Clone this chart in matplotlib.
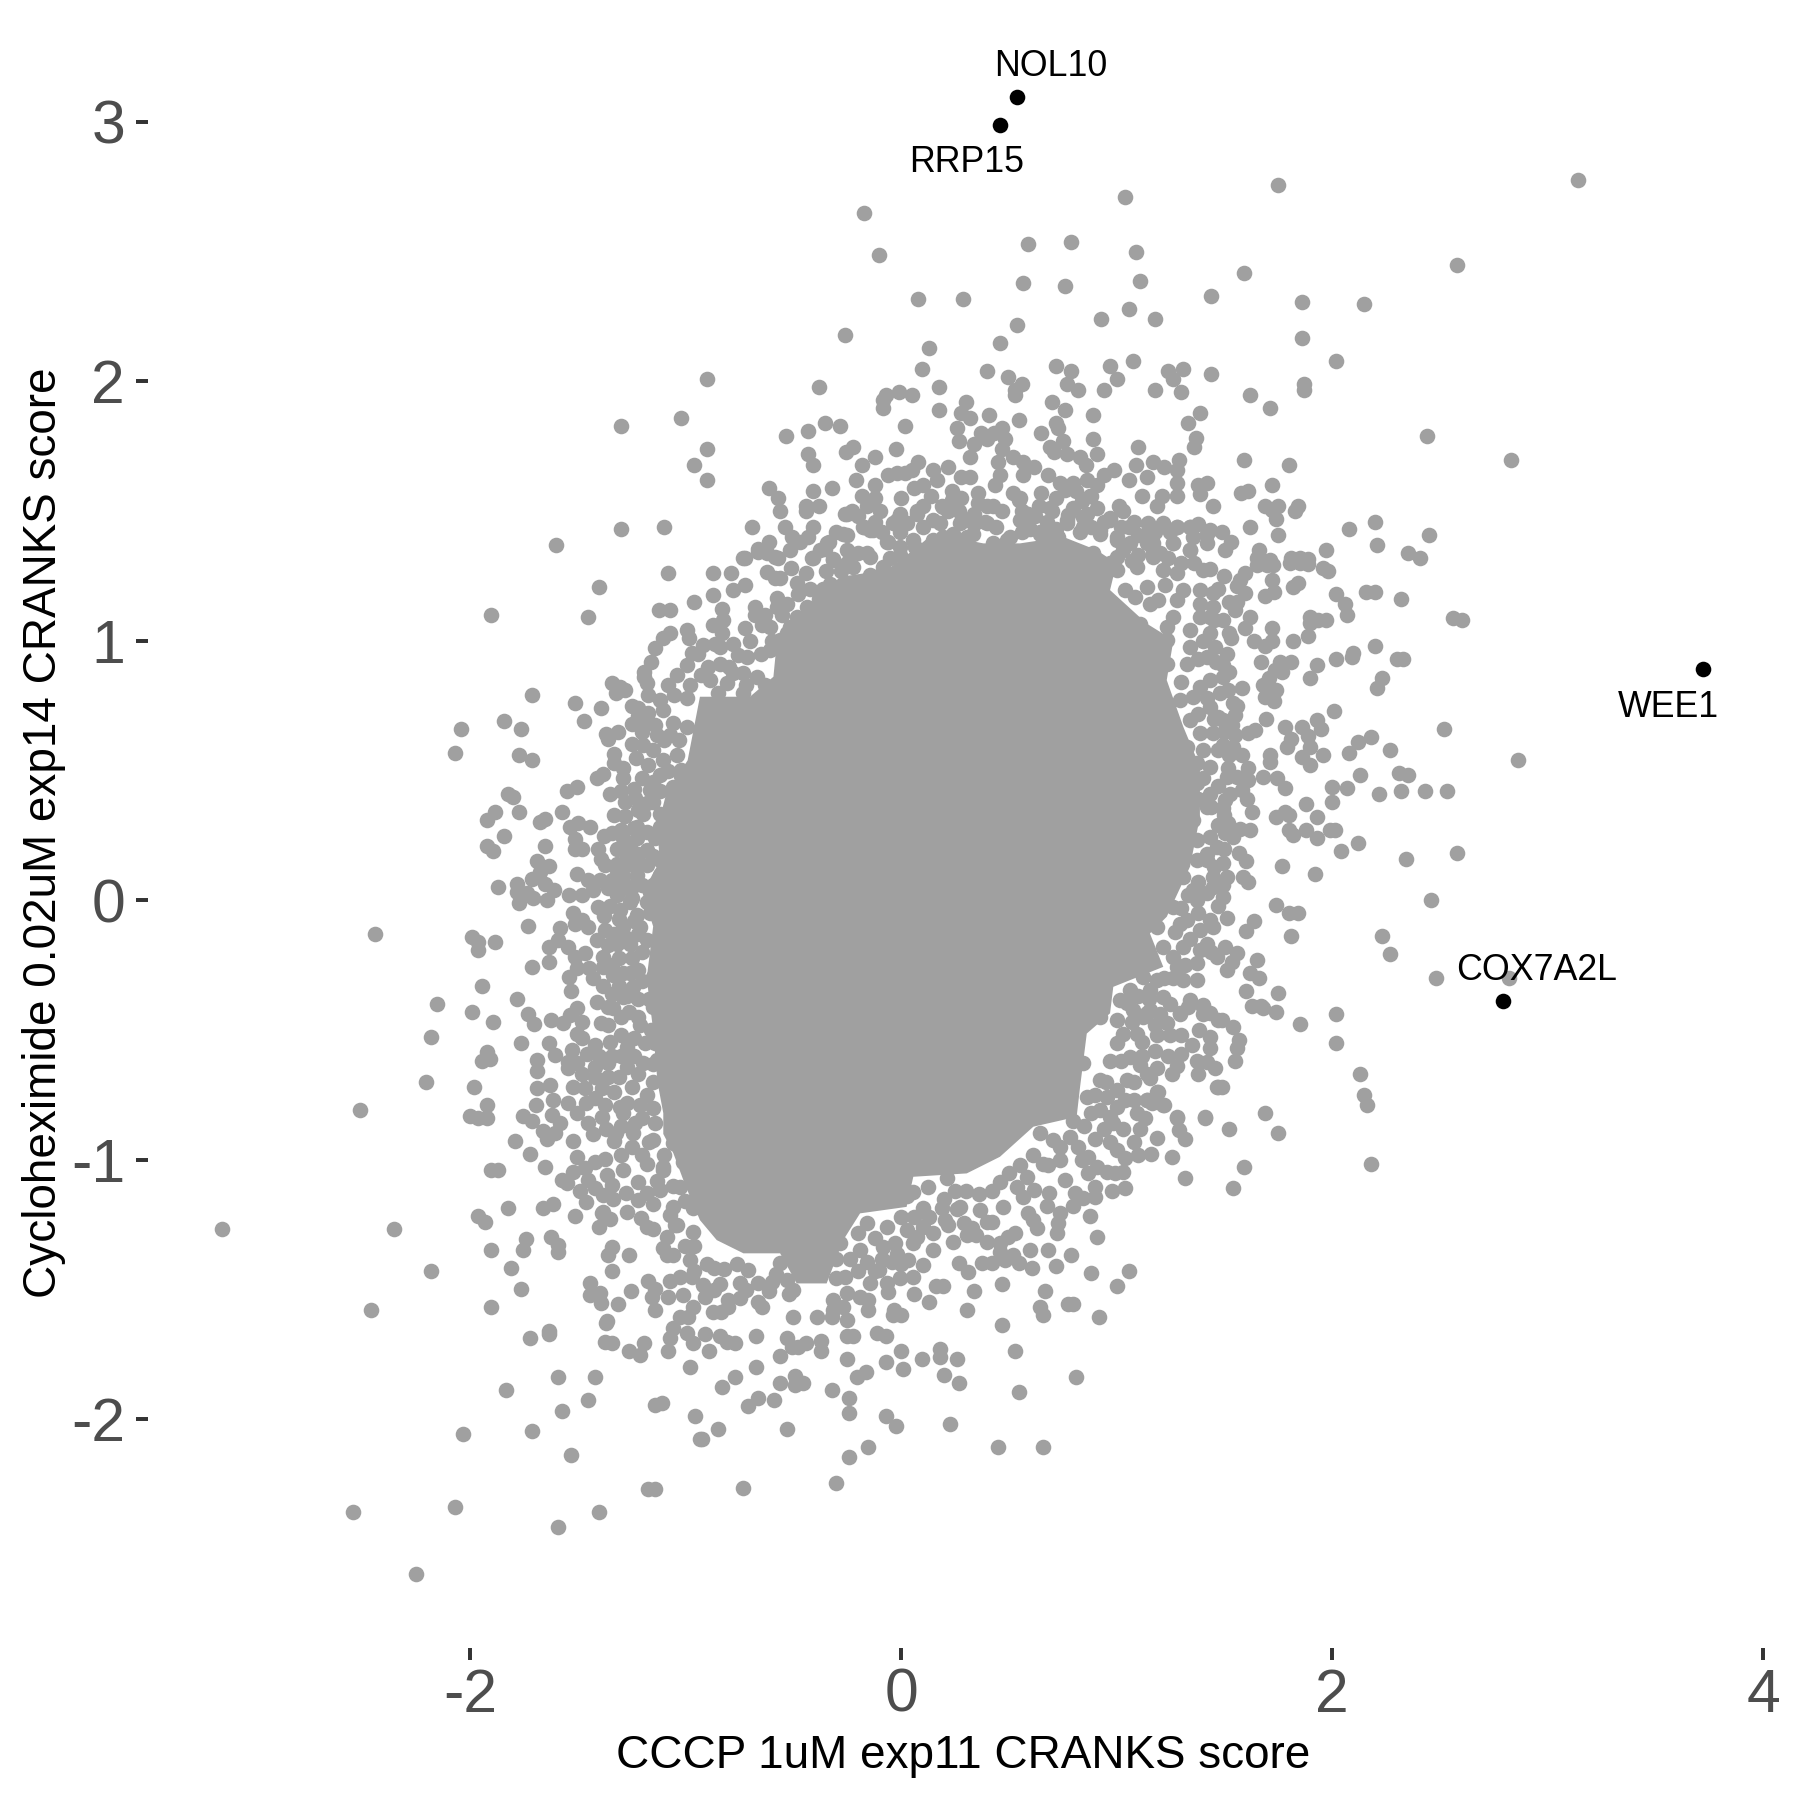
import numpy as np
import matplotlib
matplotlib.use('Agg')
import matplotlib.pyplot as plt

plt.rcParams['font.family'] = ['Liberation Sans', 'DejaVu Sans']

# labelled genes
hit_names = ['NOL10', 'RRP15', 'WEE1', 'COX7A2L']
hit_x = [0.54, 0.459, 3.723, 2.792]
hit_y = [3.097, 2.988, 0.89, -0.389]
label_x = [0.696, 0.305, 3.563, 2.95]
label_y = [3.214, 2.844, 0.744, -0.271]

xtick_vals = [-2, 0, 2, 4]
xtick_text = ['-2', '0', '2', '4']
ytick_vals = [-2, -1, 0, 1, 2, 3]
ytick_text = ['-2', '-1', '0', '1', '2', '3']

# points are too overplotted to read in the middle, so that part is an outline
core_x = [-.933, -.701, -.592, -.577, -.438, -.283, -.067, .057, .15, .382, .552, .753, .908, 1.0, .97, 1.14, 1.264, 1.233,
          1.31, 1.387, 1.387, 1.341, 1.233, 1.155, 1.217, .985, .97, .862, .831, .815, .614, .459, .305, .057, .026, -.19, -.268,
          -.345, -.484, -.561, -.731, -.855, -.933, -1.0, -1.056, -1.103, -1.103, -1.13, -1.15, -1.18, -1.15,
          -1.2, -1.12, -1.13, -1.09, -.99]
core_y = [.785, .785, .862, .99, 1.119, 1.247, 1.273, 1.35, 1.414, 1.376, 1.376, 1.401, 1.35, 1.299, 1.196, 1.067, 1.003, .849,
          .669, .515, .322, .13, -.063, -.127, -.256, -.333, -.435, -.513, -.718, -.834, -.872, -.988, -1.052, -1.065, -1.181, -1.206, -1.309,
          -1.476, -1.476, -1.36, -1.36, -1.309, -1.232, -1.1, -.975, -.9, -.82, -.7, -.5, -.3, -.1,
          .03, .15, .28, .41, .54]

upper_left = [(-1.30, 1.829), (-1.021, 1.859), (-.962, 1.679), (-1.30, 1.43), (-1.101, 1.439), (-1.601, 1.369),
    (-.90, 2.009), (-.90, 1.739), (-.90, 1.62)]

top_mid = [(-.17, 2.649), (-.10, 2.488), (1.039, 2.709), (.589, 2.529), (.79, 2.538), (1.089, 2.498), (1.111, 2.388),
    (.568, 2.378), (.759, 2.367), (1.44, 2.329), (.079, 2.318), (.289, 2.318), (1.06, 2.279), (.93, 2.239), (1.18, 2.239),
    (.54, 2.218), (-.261, 2.179), (.459, 2.149), (.128, 2.128), (1.078, 2.078), (.099, 2.049), (.719, 2.059), (.97, 2.059),
    (.399, 2.039), (.789, 2.039), (1.241, 2.039), (1.31, 2.049), (1.44, 2.03), (.498, 2.019), (1.0, 2.009), (1.261, 2.009),
    (-.381, 1.979), (.178, 1.979), (.56, 1.99), (.769, 1.99), (.82, 1.969), (.94, 1.969), (1.18, 1.969), (1.299, 1.96),
    (.529, 1.969), (.529, 1.949), (-.071, 1.949), (-.011, 1.96), (.049, 1.949), (-.082, 1.929), (-.082, 1.899), (.30, 1.919),
    (.699, 1.919), (.178, 1.889), (.759, 1.889), (.28, 1.879), (.32, 1.859), (.41, 1.869), (.889, 1.869), (1.389, 1.879),
    (.549, 1.85), (.719, 1.839), (1.33, 1.839), (-.351, 1.839), (-.282, 1.829), (.019, 1.829), (.26, 1.819), (-.432, 1.809),
    (-.533, 1.789), (.47, 1.819), (.37, 1.8), (.43, 1.8), (.73, 1.819), (.65, 1.8), (1.369, 1.782), (.889, 1.779), (.269, 1.769),
    (.40, 1.779), (.483, 1.779), (.75, 1.769), (.339, 1.758), (1.36, 1.748), (1.10, 1.748), (.69, 1.748), (-.221, 1.749),
    (-.022, 1.739), (-.255, 1.729), (.47, 1.739), (.71, 1.729), (-.432, 1.719), (.77, 1.719), (.91, 1.719), (-.121, 1.71),
    (.32, 1.71), (.52, 1.71), (.831, 1.71), (1.29, 1.699), (-.181, 1.679), (-.41, 1.679), (.077, 1.689), (.449, 1.689),
    (.568, 1.689), (.858, 1.679), (1.089, 1.679), (1.169, 1.689), (.218, 1.669), (.619, 1.669), (1.22, 1.669), (.148, 1.658),
    (.049, 1.658), (-.06, 1.64), (-.02, 1.648), (.019, 1.648), (.99, 1.658), (.459, 1.639), (.681, 1.639), (.568, 1.639),
    (1.279, 1.658), (.28, 1.63), (.32, 1.63), (.94, 1.639), (1.14, 1.63), (.169, 1.62), (-.21, 1.62), (1.06, 1.622),
    (.862, 1.62), (-.121, 1.602), (.74, 1.61), (1.279, 1.61), (1.42, 1.61), (.80, 1.61), (-.613, 1.589), (-.32, 1.589),
    (.059, 1.589), (.438, 1.6), (.91, 1.6), (1.38, 1.6), (.81, 1.579), (-.41, 1.579), (.238, 1.579), (.518, 1.571),
    (.65, 1.571), (.359, 1.571), (1.387, 1.568), (1.12, 1.56), (1.21, 1.56), (1.279, 1.56), (-.181, 1.56), (-.572, 1.549),
    (0.0, 1.549), (.877, 1.56), (.238, 1.543), (.549, 1.543), (-.121, 1.549), (-.44, 1.52), (-.381, 1.52), (-.157, 1.52),
    (.189, 1.52), (.359, 1.53), (.429, 1.52), (.64, 1.52), (1.01, 1.52), (1.19, 1.52), (1.449, 1.52), (.691, 1.512), (.80, 1.512),
    (.908, 1.512), (-.562, 1.499), (-.44, 1.499), (-.096, 1.499), (.073, 1.499), (.56, 1.499), (1.032, 1.499), (-.261, 1.489),
    (-.227, 1.499), (-.005, 1.489), (.862, 1.489), (.776, 1.485), (.97, 1.472), (.583, 1.46), (.39, 1.46), (.677, 1.46),
    (-.036, 1.453), (.026, 1.453), (.181, 1.453), (.274, 1.453), (1.217, 1.45), (1.279, 1.44), (1.148, 1.45), (1.341, 1.44),
    (1.38, 1.45), (1.434, 1.427), (-.693, 1.439), (-.54, 1.439), (-.17, 1.439), (1.06, 1.439), (.769, 1.453), (.846, 1.44),
    (.923, 1.427), (-.252, 1.409), (-.143, 1.427), (-.005, 1.421), (-.507, 1.401), (-.432, 1.4), (.645, 1.421), (.691, 1.414),
    (.73, 1.401), (-.611, 1.38), (-.333, 1.38), (-.059, 1.38), (.196, 1.401), (.305, 1.401), (.505, 1.401), (1.0, 1.401),
    (1.14, 1.408), (1.263, 1.376), (1.357, 1.401), (1.418, 1.376), (-.662, 1.353), (-.515, 1.35), (-.353, 1.356), (-.252, 1.35),
    (.065, 1.363), (.429, 1.376), (.80, 1.344), (1.341, 1.35), (-.731, 1.318), (-.585, 1.324), (-.415, 1.318), (-.314, 1.314),
    (-.144, 1.324), (-.005, 1.33), (.15, 1.363), (.893, 1.337), (1.032, 1.35), (1.171, 1.344)]

upper_right = [(1.751, 2.758), (3.141, 2.778), (1.59, 2.419), (2.58, 2.448), (1.861, 2.308), (2.15, 2.298), (1.861, 2.168),
    (2.02, 2.078), (1.871, 1.99), (1.871, 1.969), (1.621, 1.949), (1.711, 1.899), (2.441, 1.789), (1.59, 1.699), (1.8, 1.679),
    (2.831, 1.699), (1.72, 1.6), (1.612, 1.579), (1.579, 1.57), (1.691, 1.52), (1.751, 1.52), (1.841, 1.52), (1.83, 1.499),
    (1.72, 1.504), (1.74, 1.469), (1.621, 1.439), (2.201, 1.459), (2.08, 1.43), (1.751, 1.409), (2.45, 1.409), (2.21, 1.369),
    (1.531, 1.38), (1.488, 1.419), (1.66, 1.35), (1.971, 1.35), (2.351, 1.34), (2.41, 1.32), (1.504, 1.35), (1.81, 1.318),
    (1.851, 1.318), (1.89, 1.314), (1.65, 1.318), (1.712, 1.312)]

mid_right = [(1.65, 1.292), (1.697, 1.292), (1.728, 1.292), (1.805, 1.301), (1.851, 1.301), (1.89, 1.296), (1.96, 1.283),
    (1.983, 1.27), (1.596, 1.26), (1.72, 1.235), (1.573, 1.235), (1.844, 1.222), (1.821, 1.209), (1.558, 1.211), (2.02, 1.18),
    (2.158, 1.188), (2.201, 1.188), (2.32, 1.16), (1.733, 1.188), (1.689, 1.173), (1.596, 1.183), (2.06, 1.142), (1.558, 1.151),
    (1.55, 1.119), (2.07, 1.1), (1.619, 1.093), (2.563, 1.09), (2.602, 1.08), (1.898, 1.093), (1.936, 1.08), (1.971, 1.08),
    (1.898, 1.07), (1.72, 1.048), (1.596, 1.048), (1.496, 1.08), (1.89, 1.02), (1.531, 1.01), (1.638, 1.001), (1.72, 1.001),
    (1.689, .98), (1.821, 1.001), (2.201, .98), (2.099, .952), (2.091, .939), (2.02, .93), (2.3, .93), (2.331, .93), (1.511, .948),
    (1.671, .92), (1.759, .92), (1.81, .92), (1.93, .909), (1.496, .907), (1.735, .888), (1.769, .879), (1.708, .859), (1.9, .859),
    (2.23, .859), (2.21, .82), (1.496, .862), (1.678, .83), (1.581, .82), (1.519, .81), (1.739, .81), (1.689, .784), (1.731, .769),
    (1.558, .75), (2.011, .73), (1.55, .714), (1.692, .7), (1.93, .695), (1.95, .66), (1.496, .695), (1.861, .67), (1.78, .67),
    (2.521, .66), (1.535, .676), (1.643, .656), (1.612, .647), (1.89, .635), (2.181, .631), (2.121, .61), (1.81, .624), (1.789, .59),
    (1.55, .637), (1.9, .59), (2.271, .581), (2.08, .57), (1.496, .599), (1.542, .592), (1.581, .56), (1.711, .56), (1.711, .534),
    (1.96, .56), (1.861, .551), (2.862, .541), (1.9, .52), (1.612, .509), (1.519, .509), (2.311, .492), (2.351, .482), (2.13, .482),
    (1.682, .477), (1.743, .47), (1.558, .477), (1.612, .464), (1.511, .477), (1.78, .432), (2.0, .438), (2.07, .432), (2.322, .421),
    (2.43, .421), (2.532, .421), (2.22, .411), (1.581, .425), (1.527, .412), (1.604, .392), (1.503, .387), (2.0, .38), (1.881, .371),
    (1.496, .355), (1.63, .34), (1.78, .342), (1.74, .321), (1.8, .331), (1.93, .321), (1.519, .297), (1.573, .277), (1.62, .271),
    (1.8, .271), (1.821, .252), (1.881, .271), (1.93, .24), (1.99, .271), (2.014, .271), (1.503, .258), (1.542, .245), (2.121, .22),
    (2.04, .19), (1.566, .181), (1.601, .152), (2.342, .161), (2.58, .181), (1.496, .143), (1.77, .131), (1.92, .101), (1.511, .091),
    (1.588, .091), (1.612, .072), (1.496, .059), (1.496, .012), (2.461, .001), (1.74, -.019), (1.8, -.049), (1.841, -.049), (1.511, -.069),
    (1.638, -.078), (1.6, -.118), (1.81, -.139), (2.23, -.139), (2.271, -.208), (1.503, -.179), (1.558, -.204), (1.534, -.236),
    (1.65, -.229), (1.619, -.279), (1.66, -.298), (1.511, -.268), (2.481, -.298), (2.821, -.298), (1.601, -.348), (1.751, -.358),
    (1.63, -.407), (1.67, -.407), (1.681, -.416), (1.74, -.429), (2.02, -.438), (1.488, -.459), (1.85, -.478), (1.542, -.489),
    (1.57, -.538), (1.558, -.57), (2.02, -.548), (1.55, -.618), (2.13, -.668)]

lower_right = [(1.488, -.718), (2.15, -.749), (2.161, -.789), (1.691, -.818), (1.52, -.879), (1.751, -.898), (1.59, -1.029),
    (2.181, -1.017), (1.541, -1.109)]

lower_mid = [(1.468, -.718), (1.411, -.838), (1.279, -.838), (1.29, -.885), (1.319, -.92), (1.19, -.917), (1.16, -.978),
    (1.259, -.988), (1.319, -1.068), (1.191, -.737), (1.14, -.769), (1.219, -.789), (1.132, -.84), (1.109, -.879), (.9, -.92),
    (1.003, -.96), (1.041, -.991), (.869, -.988), (.838, -1.001), (.908, -1.026), (.869, -1.052), (.954, -1.046), (.993, -1.052),
    (1.032, -1.048), (.76, -1.078), (.9, -1.103), (.978, -1.12), (1.041, -1.107), (.807, -1.129), (.846, -1.148), (.9, -1.142),
    (.8, -1.178), (.688, -1.127), (.619, -1.116), (.879, -1.217), (.676, -1.178), (.738, -1.206), (.73, -1.245), (.722, -1.283),
    (.614, -1.232), (.633, -1.264), (.591, -1.206), (.91, -1.297), (.684, -1.347), (.6, -1.347), (.79, -1.368), (.529, -1.28),
    (.498, -1.296), (.398, -1.318), (.459, -1.322), (.459, -1.354), (.521, -1.367), (.549, -1.396), (.483, -1.386), (.377, -1.396),
    (.421, -1.396), (.269, -1.396), (.309, -1.433), (.609, -1.418), (.719, -1.408), (.88, -1.437), (1.06, -1.427), (1.0, -1.487),
    (.469, -1.477), (.67, -1.507), (.339, -1.507), (.162, -1.487), (.196, -1.487), (.128, -1.547), (.059, -1.517), (.308, -1.577),
    (.645, -1.566), (.66, -1.598), (.776, -1.557), (.8, -1.557), (.919, -1.607), (.469, -1.637), (-.032, -1.579), (-.036, -1.598),
    (0.0, -1.598), (.531, -1.737), (.811, -1.837), (.549, -1.896), (0, -1.738), (.099, -1.768), (.179, -1.727), (.179, -1.759),
    (.258, -1.768), (.2, -1.827), (.271, -1.858), (.009, -1.807), (-.071, -1.778), (-.111, -1.667), (-.071, -1.678), (-.252, -1.678),
    (-.221, -1.678), (-.252, -1.768), (-.203, -1.837), (-.162, -1.817), (-.32, -1.887), (-.241, -1.917), (-.241, -1.977), (-.071, -1.987),
    (-.022, -2.027), (.229, -2.017), (-.152, -2.107), (-.241, -2.146), (.45, -2.107), (.66, -2.107), (-.302, -2.247), (-.732, -2.266),
    (-.531, -2.036), (-.851, -2.036), (-.925, -2.077), (-.71, -1.947), (-.662, -1.917), (-.59, -1.927), (-.831, -1.877), (-.772, -1.837),
    (-.561, -1.858), (-.492, -1.832), (-.492, -1.868), (-.453, -1.858), (-.671, -1.797), (-.561, -1.757), (-.891, -1.737), (-.772, -1.707),
    (-.809, -1.7), (-.84, -1.678), (-.909, -1.669), (-.671, -1.678), (-.531, -1.688), (-.508, -1.72), (-.476, -1.72), (-.441, -1.707),
    (-.371, -1.697), (-.371, -1.737), (-.5, -1.607), (-.391, -1.607), (-.322, -1.607), (-.252, -1.617), (-.314, -1.54), (-.252, -1.514),
    (-.19, -1.527), (-.152, -1.54), (-.152, -1.579), (-.268, -1.566), (-.314, -1.579), (-.662, -1.547), (-.644, -1.568), (-.871, -1.588),
    (-.837, -1.588), (-.801, -1.566), (-.613, -1.507), (-.52, -1.517), (-.747, -1.533), (-.801, -1.54), (-.917, -1.482), (-.87, -1.502),
    (-.909, -1.527), (-.662, -1.476), (-.747, -1.476), (-.708, -1.425), (-.87, -1.418), (-.066, -1.476), (-.005, -1.457), (.057, -1.45),
    (-.144, -1.476), (-.059, -1.508), (-.102, -1.424), (-.301, -1.457), (-.26, -1.45), (-.561, -1.399), (-.531, -1.463), (-.301, -1.38),
    (-.237, -1.38), (-.16, -1.393), (-.043, -1.393), (.034, -1.386), (.104, -1.405), (-.19, -1.347), (-.082, -1.335), (-.02, -1.361),
    (.057, -1.322), (.15, -1.347), (-.283, -1.322), (.15, -1.283), (.243, -1.318), (.305, -1.29), (.328, -1.264), (-.159, -1.245),
    (-.066, -1.258), (.027, -1.271), (.073, -1.297), (.204, -1.232), (.29, -1.245), (.421, -1.239), (.104, -1.187), (.189, -1.187),
    (.274, -1.181), (.367, -1.194), (.475, -1.181), (.127, -1.103), (.212, -1.071), (.459, -1.084), (.537, -1.103), (.568, -1.142),
    (.057, -1.122), (.614, -.981), (.66, -1.014), (.738, -.999), (.583, -1.065), (.645, -.898), (.707, -.923), (.785, -.911)]

lower_left = [(-2.203, -.699), (-1.981, -.718), (-2.512, -.809), (-1.921, -.789), (-2.002, -.829), (-1.961, -.838), (-1.921, -.838),
    (-1.753, -.829), (-1.714, -.849), (-1.692, -.789), (-1.691, -.724), (-1.629, -.712), (-1.52, -.718), (-1.466, -.724), (-1.389, -.724),
    (-1.613, -.769), (-1.544, -.782), (-1.463, -.78), (-1.621, -.827), (-1.582, -.859), (-1.504, -.821), (-1.374, -.789), (-1.304, -.795),
    (-1.211, -.789), (-1.451, -.857), (-1.389, -.834), (-1.288, -.821), (-1.234, -.859), (-1.142, -.859), (-1.66, -.889), (-1.606, -.898),
    (-1.644, -.92), (-1.791, -.929), (-1.522, -.929), (-1.323, -.898), (-1.332, -.929), (-1.242, -.898), (-1.149, -.924), (-1.056, -.936),
    (-1.722, -.978), (-1.502, -.988), (-1.301, -.98), (-1.65, -1.028), (-1.901, -1.038), (-1.872, -1.038), (-1.42, -1.007), (-1.374, -.998),
    (-1.466, -1.033), (-1.366, -1.058), (-1.288, -1.037), (-1.18, -1.014), (-1.103, -1.026), (-1.01, -1.007), (-1.52, -1.048), (-1.575, -1.078),
    (-1.551, -1.088), (-1.451, -1.078), (-1.343, -1.097), (-1.49, -1.12), (-1.42, -1.11), (-1.462, -1.161), (-1.381, -1.136), (-1.335, -1.149),
    (-1.276, -1.129), (-1.222, -1.084), (-1.222, -1.155), (-1.18, -1.129), (-1.103, -1.039), (-1.118, -1.116), (-1.026, -1.103), (-1.613, -1.168),
    (-1.66, -1.187), (-1.822, -1.187), (-1.961, -1.217), (-1.932, -1.238), (-1.511, -1.217), (-1.381, -1.2), (-1.389, -1.206), (-1.35, -1.228),
    (-1.401, -1.258), (-1.056, -1.181), (-1.072, -1.212), (-.964, -1.187), (-1.206, -1.225), (-1.18, -1.258), (-1.149, -1.268), (-1.041, -1.251),
    (-1.087, -1.296), (-.964, -1.277), (-3.152, -1.268), (-2.351, -1.268), (-1.742, -1.306), (-1.753, -1.347), (-1.623, -1.297), (-1.59, -1.328),
    (-1.59, -1.354), (-1.901, -1.347), (-1.341, -1.335), (-1.361, -1.367), (-1.262, -1.367), (-1.103, -1.341), (-1.087, -1.367), (-1.056, -1.367),
    (-.979, -1.386), (-1.811, -1.418), (-2.181, -1.428), (-1.341, -1.428), (-1.172, -1.467), (-1.072, -1.467), (-1.026, -1.45), (-.971, -1.45),
    (-1.442, -1.476), (-1.397, -1.514), (-1.442, -1.521), (-1.392, -1.55), (-1.762, -1.499), (-1.251, -1.507), (-1.142, -1.496), (-1.157, -1.527),
    (-1.08, -1.527), (-1.142, -1.577), (-1.312, -1.557), (-2.461, -1.577), (-1.901, -1.567), (-.964, -1.566), (-.987, -1.604), (-1.026, -1.607),
    (-1.056, -1.649), (-1.366, -1.62), (-1.37, -1.63), (-1.632, -1.658), (-1.632, -1.671), (-1.722, -1.688), (-1.374, -1.701), (-1.341, -1.707),
    (-1.261, -1.737), (-1.211, -1.75), (-1.191, -1.707), (-1.072, -1.688), (-1.08, -1.738), (-.991, -1.666), (-.964, -1.707), (-.981, -1.797),
    (-1.592, -1.837), (-1.422, -1.837), (-1.831, -1.887), (-1.451, -1.927), (-1.572, -1.967), (-1.142, -1.945), (-1.111, -1.936), (-.954, -1.987),
    (-2.031, -2.057), (-1.711, -2.046), (-.933, -2.077), (-1.531, -2.138), (-1.172, -2.267), (-1.142, -2.267), (-2.541, -2.357), (-2.071, -2.337),
    (-1.401, -2.357), (-1.592, -2.416), (-2.252, -2.597)]

mid_left = [(-1.081, 1.26), (-1.401, 1.209), (-.962, 1.151), (-1.903, 1.1), (-1.451, 1.091), (-1.123, 1.119), (-1.072, 1.119), (-.991, 1.042),
    (-.982, 1.01), (-1.072, 1.031), (-1.103, 1.01), (-1.142, .971), (-.971, .952), (-.991, .907), (-1.162, .92), (-1.191, .881), (-1.191, .862),
    (-1.18, .839), (-1.041, .868), (-1.08, .83), (-1.052, .791), (-.979, .83), (-.991, .782), (-1.341, .839), (-1.304, .823), (-1.281, .81),
    (-1.322, .798), (-1.711, .79), (-1.511, .759), (-1.392, .74), (-1.172, .791), (-1.118, .772), (-1.103, .733), (-1.25, .75), (-1.219, .74),
    (-1.172, .721), (-1.842, .69), (-1.471, .69), (-2.042, .66), (-1.762, .66), (-1.219, .71), (-1.142, .676), (-1.056, .682), (-1.312, .65),
    (-1.369, .641), (-1.358, .624), (-1.204, .65), (-1.134, .637), (-1.072, .637), (-.995, .669), (-1.25, .601), (-1.196, .599), (-1.149, .579),
    (-2.071, .57), (-1.771, .56), (-1.711, .541), (-1.33, .564), (-1.33, .528), (-1.172, .522), (-1.103, .541), (-1.041, .56), (-1.381, .489),
    (-1.288, .509), (-1.412, .47), (-1.288, .47), (-1.021, .502), (-1.118, .483), (-1.149, .457), (-1.505, .438), (-1.551, .423), (-1.822, .412),
    (-1.799, .4), (-1.35, .412), (-1.165, .425), (-1.056, .438), (-.964, .425), (-1.281, .38), (-1.234, .393), (-1.18, .374), (-1.882, .342),
    (-1.923, .31), (-1.771, .34), (-1.572, .34), (-1.281, .327), (-1.196, .335), (-1.118, .335), (-1.652, .312), (-1.675, .301), (-1.536, .284),
    (-1.497, .297), (-1.443, .284), (-1.227, .284), (-1.18, .265), (-1.118, .284), (-1.842, .249), (-1.378, .249), (-1.513, .236), (-1.513, .2),
    (-1.482, .2), (-1.288, .239), (-1.227, .239), (-1.319, .2), (-1.258, .207), (-1.923, .211), (-1.892, .19), (-1.652, .211), (-1.404, .2),
    (-1.392, .161), (-1.374, .136), (-1.18, .194), (-1.118, .155), (-1.691, .152), (-1.632, .131), (-1.273, .136), (-1.319, .117), (-1.18, .136),
    (-1.502, .101), (-1.451, .078), (-1.397, .078), (-1.343, .078), (-1.288, .091), (-1.227, .098), (-1.118, .098), (-1.714, .081), (-1.675, .11),
    (-1.652, .063), (-1.61, .042), (-1.872, .051), (-1.783, .062), (-1.783, .033), (-1.428, .04), (-1.358, .046), (-1.288, .046), (-1.737, .027),
    (-1.706, .008), (-1.771, -.009), (-1.641, .001), (-1.542, .021), (-1.482, .021), (-1.258, -.005), (-1.18, -.005), (-1.408, -.024), (-1.304, -.037),
    (-1.227, -.057), (-1.165, -.05), (-1.52, -.05), (-1.513, -.089), (-1.482, -.076), (-1.451, -.101), (-1.731, -.099), (-1.582, -.108), (-1.374, -.114),
    (-1.288, -.101), (-1.211, -.101), (-1.412, -.153), (-1.992, -.14), (-1.961, -.159), (-1.961, -.191), (-1.882, -.159), (-2.441, -.13), (-1.632, -.179),
    (-1.59, -.153), (-1.544, -.179), (-1.466, -.204), (-1.513, -.217), (-1.505, -.262), (-1.319, -.166), (-1.258, -.166), (-1.18, -.153), (-1.381, -.217),
    (-1.381, -.256), (-1.335, -.288), (-1.258, -.281), (-1.632, -.239), (-1.711, -.258), (-1.541, -.297), (-1.531, -.349), (-1.381, -.329), (-1.943, -.329),
    (-1.782, -.378), (-2.153, -.398), (-1.288, -.371), (-1.242, -.333), (-1.149, -.294), (-1.992, -.429), (-1.412, -.39), (-1.505, -.416), (-1.536, -.442),
    (-1.731, -.438), (-1.701, -.478), (-1.892, -.469), (-1.623, -.459), (-1.567, -.474), (-1.482, -.468), (-1.505, -.513), (-1.482, -.532), (-1.335, -.416),
    (-1.219, -.448), (-1.149, -.41), (-1.392, -.474), (-1.35, -.545), (-1.273, -.564), (-2.181, -.528), (-1.762, -.548), (-1.632, -.548), (-1.42, -.557),
    (-1.459, -.59), (-1.528, -.577), (-1.923, -.583), (-1.943, -.619), (-1.907, -.611), (-1.606, -.596), (-1.544, -.622), (-1.505, -.628), (-1.544, -.647),
    (-1.691, -.615), (-1.691, -.658), (-1.42, -.641), (-1.358, -.628), (-1.273, -.641), (-1.196, -.628), (-1.134, -.615)]

# fringe of the dense part, upper side and right side
core_fringe = [(-.871, 1.26), (-.79, 1.26), (-.724, 1.318), (-.662, 1.344), (-.314, 1.311), (-.407, 1.318), (-.585, 1.241), (-.624, 1.267), (-.561, 1.241),
    (-.724, 1.215), (-.778, 1.196), (-.871, 1.177), (-.484, 1.222), (-.422, 1.202), (-.36, 1.202), (-.577, 1.164), (-.531, 1.144), (-.577, 1.132),
    (-.677, 1.132), (-.677, 1.1), (-.647, 1.061), (-.608, 1.055), (-.832, 1.125), (-.824, 1.08), (-.871, 1.061), (-.724, 1.048), (-.778, .99), (-.701, .999),
    (-.438, 1.132), (-.484, 1.093), (-.515, 1.055), (-.863, .99), (-.917, .984), (-.84, .977), (-.755, .945), (-.716, .939), (-.894, .9), (-.84, .913),
    (-.778, .875), (-.732, .875), (-.67, .862), (-.546, .9), (-.484, .977), (-.608, .965), (-.561, 1.003), (-.886, .849), (-.809, .836), (-.732, .798),
    (-.252, 1.491), (-.176, 1.44), (-.128, 1.427), (-.268, 1.414), (-.345, 1.376), (-.376, 1.35), (-.067, 1.382), (-.02, 1.466), (.073, 1.491), (.15, 1.466),
    (-.159, 1.337), (-.221, 1.286), (-.144, 1.254), (-.082, 1.286), (-.005, 1.363), (.057, 1.389), (.026, 1.286), (.15, 1.389), (.243, 1.414), (.336, 1.414),
    (.398, 1.453), (.49, 1.389), (.305, 1.466), (.196, 1.517), (.551, 1.466), (.59, 1.491), (.645, 1.414), (.707, 1.376), (.769, 1.466), (.846, 1.479),
    (.923, 1.414), (.97, 1.466), (.836, 1.337), (.8, 1.286), (.862, 1.273), (1.0, 1.389), (1.062, 1.376), (1.0, 1.324), (1.148, 1.453), (1.14, 1.376),
    (1.094, 1.286), (1.171, 1.324), (1.217, 1.453), (1.279, 1.44), (1.341, 1.44), (1.418, 1.414), (1.264, 1.376), (1.341, 1.35), (1.403, 1.273), (1.434, 1.279),
    (1.279, 1.26), (1.217, 1.273), (1.171, 1.376), (1.039, 1.196), (1.0, 1.273), (.97, 1.299), (1.14, 1.209), (1.225, 1.215), (1.31, 1.196), (1.387, 1.196),
    (1.449, 1.183), (1.086, 1.17), (1.194, 1.157), (1.279, 1.157), (1.387, 1.144), (1.449, 1.132), (1.155, 1.144), (1.264, 1.093), (1.387, 1.093), (1.434, 1.093),
    (1.109, 1.067), (1.233, 1.055), (1.341, 1.042), (1.434, 1.029), (1.14, 1.003), (1.233, 1.003), (1.341, .978), (1.457, .978), (1.078, .978), (1.155, .939),
    (1.233, .913), (1.326, .913), (1.418, .939), (1.387, .823), (1.357, .785), (1.434, .746), (1.472, .708), (1.295, .772), (1.341, .695), (1.387, .644),
    (1.449, .644), (1.434, .849), (1.326, .592), (1.372, .528), (1.434, .515), (1.434, .412), (1.372, .451), (1.418, .361), (1.357, .31), (1.434, .245),
    (1.372, .232), (1.465, .207), (1.279, .31), (1.295, .258), (1.418, .155), (1.372, .155), (1.449, .091), (1.233, .117), (1.31, .091), (1.357, .04),
    (1.449, .053), (1.372, .001), (1.434, -.076), (1.264, -.024), (1.326, -.076), (1.387, -.114), (1.449, -.101), (1.186, -.101), (1.295, -.089), (1.217, -.179),
    (1.31, -.179), (1.387, -.191), (1.465, -.217), (1.279, -.256), (1.372, -.243), (1.418, -.166), (1.372, -.307), (1.31, -.307), (1.264, -.217), (1.186, -.307),
    (1.125, -.294), (1.217, -.371), (1.155, -.346), (1.063, -.346), (1.016, -.384), (1.078, -.423), (1.341, -.384), (1.403, -.41), (1.434, -.435), (1.295, -.435),
    (1.14, -.435), (1.047, -.397), (1.155, -.423), (1.125, -.448), (1.202, -.436), (1.233, -.474), (1.189, -.519), (1.295, -.436), (1.333, -.41), (1.403, -.436),
    (1.403, -.403), (1.473, -.461), (1.383, -.5), (1.434, -.525), (1.349, -.558), (1.299, -.59), (1.434, -.57), (1.372, -.618), (1.418, -.622), (1.457, -.647),
    (1.473, -.718), (1.12, -.545), (1.094, -.513), (1.0, -.551), (1.032, -.513), (1.063, -.603), (1.109, -.635), (1.189, -.647), (1.14, -.667), (1.155, -.686),
    (1.259, -.669), (1.189, -.737), (1.14, -.77), (1.217, -.789), (1.163, -.782), (1.047, -.692), (1.04, -.77), (1.0, -.795), (1.279, -.836), (1.411, -.836),
    (1.094, -.821), (.97, -.834), (.985, -.859), (.923, -.808), (.862, -.757), (.954, -.757), (.846, -.628), (.923, -.692), (.923, -.448), (1.0, -.461)]

# rough estimates where the dots merge into each other
left_band = [(-1.25, .68), (-1.19, .68), (-1.1, .62), (-1.03, .62), (-1.23, .55), (-1.02, .48), (-1.08, .5), (-1.2, .47), (-1.24, .43), (-1.12, .42),
    (-1.3, .42), (-1.22, .35), (-1.15, .38), (-1.02, .38), (-1.06, .33), (-1.33, .33), (-1.02, .3), (-1.34, .26), (-1.24, .28), (-1.3, .27), (-1.14, .24),
    (-1.08, .22), (-1.22, .18), (-1.27, .17), (-1.15, .17), (-1.09, .12), (-1.23, .15), (-1.32, .14), (-1.35, .06), (-1.25, .05), (-1.2, .06), (-1.15, .06),
    (-1.32, .02), (-1.25, .01), (-1.31, -.07), (-1.24, -.08), (-1.35, -.02), (-1.38, -.06), (-1.33, -.13), (-1.28, -.14), (-1.22, -.13), (-1.36, -.17),
    (-1.31, -.22), (-1.25, -.22), (-1.2, -.2), (-1.34, -.25), (-1.29, -.28), (-1.22, -.27), (-1.31, -.33), (-1.27, -.37), (-1.22, -.38), (-1.2, -.31),
    (-1.34, -.36), (-1.45, -.26), (-1.43, -.3), (-1.36, -.41), (-1.3, -.45), (-1.26, -.43), (-1.21, -.48), (-1.17, -.38), (-1.16, -.5), (-1.3, -.52),
    (-1.36, -.48), (-1.24, -.53), (-1.19, -.55), (-1.14, -.55), (-1.4, -.6), (-1.34, -.6), (-1.3, -.6), (-1.24, -.6), (-1.15, -.63), (-1.22, -.67),
    (-1.31, -.68), (-1.36, -.68), (-1.42, -.68), (-1.48, -.67), (-1.15, -.7), (-1.25, -.72), (-1.33, -.74), (-1.18, -.75), (-1.42, -.76), (-1.27, -.78),
    (-1.15, -.8), (-1.2, -.84), (-1.3, -.87), (-1.37, -.88), (-1.43, -.9), (-1.17, -.93), (-1.25, -.95), (-1.1, -.98), (-1.2, -.98), (-1.13, -1.08),
    (-1.06, -1.1), (-1.0, -1.16), (-1.05, -1.25), (-1.15, -1.17), (-1.27, -1.2), (-1.0, -1.33), (-.96, -1.33), (-.96, -1.43), (-1.01, -1.52)]

upper_band = [(-.85, .8), (-.8, .9), (-.63, .83), (-.65, .95), (-.6, 1.0), (-.72, .83), (-.94, .95), (-.93, .87), (-.83, 1.03), (-.63, 1.1), (-.53, 1.03),
    (-.55, 1.1), (-.46, 1.04), (-.48, 1.18), (-.38, 1.16), (-.33, 1.22), (-.28, 1.27), (-.35, 1.27), (-.25, 1.3), (-.2, 1.34), (-.44, 1.26), (-.57, 1.32),
    (-.51, 1.28), (-.62, 1.34), (-.47, 1.38), (-.41, 1.44), (-.3, 1.42), (-.2, 1.48), (-.12, 1.46), (-.09, 1.42), (-.05, 1.32), (-.1, 1.25), (-.02, 1.24),
    (.1, 1.44), (.1, 1.52), (.14, 1.56), (.22, 1.5), (.27, 1.5), (.34, 1.49), (.34, 1.45), (.44, 1.44), (.47, 1.5), (.55, 1.55), (.6, 1.43), (.62, 1.48),
    (.7, 1.5), (.72, 1.55), (.84, 1.54), (.88, 1.44), (.94, 1.46), (1.02, 1.44), (1.08, 1.46), (1.1, 1.41), (1.18, 1.42), (1.2, 1.34), (1.24, 1.32),
    (1.3, 1.3), (1.36, 1.3), (1.1, 1.33), (1.07, 1.31), (1.25, 1.42), (.83, 1.42), (.72, 1.43), (.56, 1.42), (.4, 1.52), (.28, 1.55), (.1, 1.6), (.88, 1.56), (.76, 1.58)]

right_band = [(1.5, 1.25), (1.47, 1.2), (1.52, 1.15), (1.45, 1.08), (1.52, 1.03), (1.4, 1.0), (1.46, .92), (1.52, .88), (1.38, .93), (1.3, .84), (1.42, .78),
    (1.48, .8), (1.54, .76), (1.38, .72), (1.45, .7), (1.5, .65), (1.4, .58), (1.47, .58), (1.52, .56), (1.4, .47), (1.47, .44), (1.44, .36), (1.5, .33),
    (1.38, .39), (1.47, .29), (1.42, .18), (1.5, .2), (1.45, .13), (1.38, .07), (1.42, .03), (1.47, -.02), (1.33, .02), (1.3, -.03), (1.38, -.05), (1.27, -.12),
    (1.34, -.15), (1.44, -.2), (1.26, -.3), (1.32, -.25), (1.22, -.3), (1.15, -.38), (1.25, -.4), (1.1, -.37), (1.07, -.47), (1.18, -.48), (1.25, -.52),
    (1.3, -.52), (1.18, -.58), (1.24, -.6), (1.28, -.64), (1.38, -.67), (1.08, -.7), (1.12, -.6), (1.02, -.62), (.97, -.62), (.95, -.7), (1.0, -.73), (.9, -.75),
    (1.08, -.77), (.88, -.82), (.94, -.88), (1.03, -.88), (1.08, -.93), (.97, -.93), (.85, -.87), (.8, -.85), (1.1, -.98)]

lower_band = [(-.9, -1.4), (-.82, -1.42), (-.76, -1.4), (-.72, -1.5), (-.84, -1.48), (-.58, -1.44), (-.6, -1.47), (-.5, -1.5), (-.2, -1.28), (-.12, -1.3),
    (-.03, -1.32), (.0, -1.22), (.06, -1.22), (.1, -1.26), (.13, -1.22), (.2, -1.15), (.25, -1.12), (.3, -1.12), (.36, -1.13), (.42, -1.12), (.5, -1.05),
    (.55, -1.02), (.35, -1.29), (.22, -1.25), (.26, -1.19), (.4, -1.24), (.03, -1.14), (.0, -1.4), (-.12, -1.43), (-.2, -1.43), (-.09, -1.38), (.68, -1.02),
    (.74, -.95), (.82, -.95)]

all_grey = (upper_left + top_mid + upper_right + mid_right + lower_right + lower_mid + lower_left + mid_left
            + core_fringe + left_band + upper_band + right_band + lower_band)
grey_x = [p[0] for p in all_grey]
grey_y = [p[1] for p in all_grey]

fig = plt.figure(figsize=(6, 6), dpi=300)
# axes box in figure fractions, limits chosen so the ticks land where they do in the original
ax = fig.add_axes([148 / 1800, 152 / 1800, 1642 / 1800, 1628 / 1800])
ax.set_xlim(-3.494, 4.125)
ax.set_ylim(-2.881, 3.393)

grey = '#A0A0A0'
ax.fill(core_x, core_y, color=grey, lw=0, zorder=1)
ax.scatter(grey_x, grey_y, s=14, c=grey, linewidths=0, zorder=2)
ax.scatter(hit_x, hit_y, s=14, c='black', linewidths=0, zorder=3)
for name, lx, ly in zip(hit_names, label_x, label_y):
    ax.text(lx, ly, name, fontsize=8.6, color='black', ha='center', va='center', zorder=4)

for side in ax.spines:
    ax.spines[side].set_visible(False)
ax.set_xticks(xtick_vals)
ax.set_xticklabels(xtick_text)
ax.set_yticks(ytick_vals)
ax.set_yticklabels(ytick_text)
ax.tick_params(axis='both', labelsize=14.6, labelcolor='#4D4D4D', color='#333333', length=2.9, width=0.95)
ax.tick_params(axis='x', pad=1.9)
ax.tick_params(axis='y', pad=2.6)

fig.text(963 / 1800, 1 - 1756 / 1800, 'CCCP 1uM exp11 CRANKS score', fontsize=11, ha='center', va='center')
fig.text(44 / 1800, 1 - 833 / 1800, 'Cycloheximide 0.02uM exp14 CRANKS score', fontsize=11, rotation=90, ha='center', va='center')

fig.savefig('out.png', dpi=300, facecolor='white')
